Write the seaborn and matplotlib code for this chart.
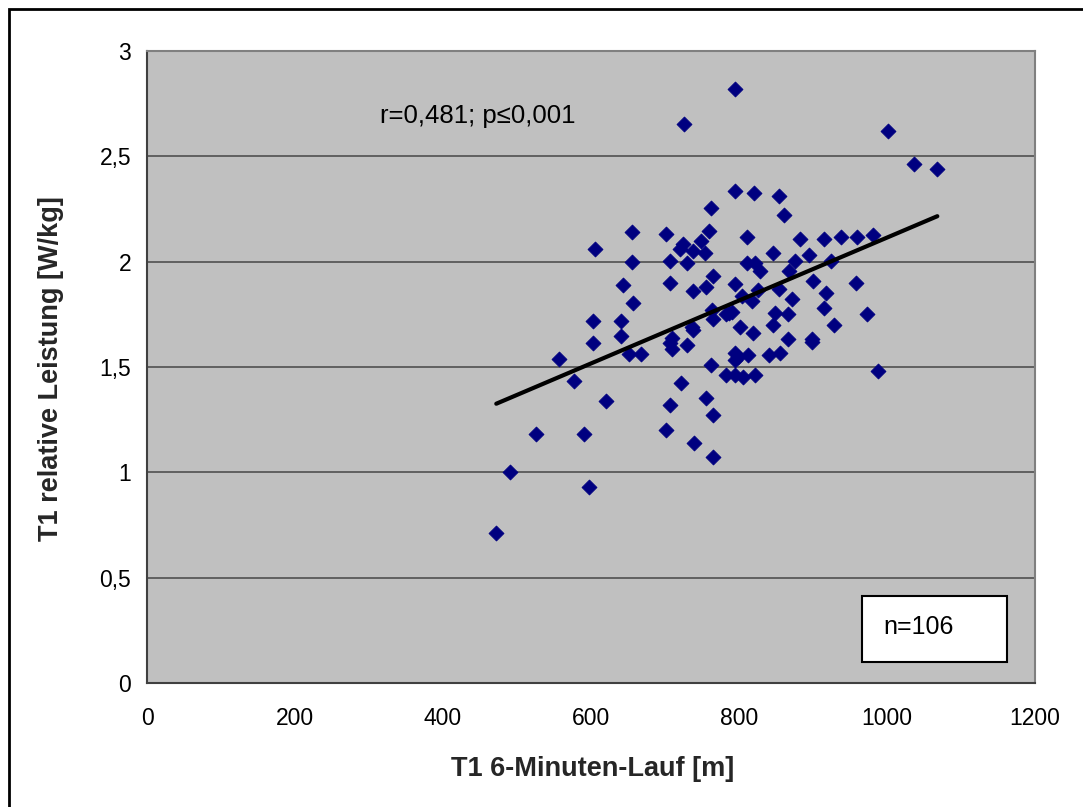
import numpy as np
import pandas as pd
import matplotlib
matplotlib.use("Agg")
import matplotlib.pyplot as plt
import seaborn as sns
from matplotlib.patches import Rectangle

# ---- data ----
lauf_m = [472, 490, 525, 557, 577, 591, 597, 603, 603, 605,
          620, 640, 640, 643, 657, 655, 655, 652, 667, 701,
          707, 707, 709, 707, 709, 701, 707, 721, 730, 739,
          736, 738, 794, 725, 794, 820, 854, 861, 762, 759,
          748, 724, 720, 738, 754, 730, 811, 883, 915, 938,
          959, 981, 846, 895, 875, 924, 811, 821, 765, 828,
          867, 738, 756, 794, 825, 854, 900, 918, 958, 804,
          818, 872, 764, 783, 790, 765, 849, 866, 915, 973,
          802, 819, 846, 929, 866, 898, 899, 794, 794, 812,
          840, 855, 762, 782, 795, 805, 821, 988, 756, 765,
          765, 1002, 1037, 1068, 787, 799]
leistung_wkg = [0.71, 1.00, 1.18, 1.54, 1.435, 1.18, 0.93, 1.615, 1.72, 2.06,
                1.34, 1.72, 1.645, 1.89, 1.805, 2.14, 2.00, 1.56, 1.56, 2.13,
                2.005, 1.90, 1.64, 1.615, 1.585, 1.20, 1.32, 1.425, 1.605, 1.14,
                1.69, 1.675, 2.82, 2.652, 2.337, 2.327, 2.31, 2.223, 2.253, 2.147,
                2.10, 2.084, 2.059, 2.052, 2.043, 1.995, 2.118, 2.107, 2.107, 2.118,
                2.118, 2.128, 2.043, 2.032, 2.005, 2.005, 1.995, 1.995, 1.932, 1.956,
                1.957, 1.861, 1.881, 1.892, 1.865, 1.868, 1.91, 1.853, 1.90, 1.839,
                1.812, 1.824, 1.771, 1.75, 1.762, 1.726, 1.755, 1.75, 1.778, 1.75,
                1.692, 1.663, 1.70, 1.70, 1.633, 1.631, 1.62, 1.565, 1.533, 1.557,
                1.557, 1.568, 1.51, 1.462, 1.462, 1.454, 1.462, 1.481, 1.351, 1.272,
                1.074, 2.622, 2.462, 2.44, 1.755, 1.548]

x_ticks = [0, 200, 400, 600, 800, 1000, 1200]
x_tick_labels = ["0", "200", "400", "600", "800", "1000", "1200"]
y_ticks = [0, 0.5, 1, 1.5, 2, 2.5, 3]
y_tick_labels = ["0", "0,5", "1", "1,5", "2", "2,5", "3"]

x_label = "T1 6-Minuten-Lauf [m]"
y_label = "T1 relative Leistung [W/kg]"
stat_text = "r=0,481; p≤0,001"
n_text = "n=106"

df = pd.DataFrame({"lauf": lauf_m, "leistung": leistung_wkg})

# ---- style ----
sns.set_style("white")
plt.rcParams["font.family"] = ["Liberation Sans", "DejaVu Sans"]

fig = plt.figure(figsize=(10.83, 8.07), dpi=100)
ax = fig.add_axes([147 / 1083, 1 - 683 / 807, 888 / 1083, 632 / 807])
ax.set_facecolor("#C0C0C0")

sns.regplot(data=df, x="lauf", y="leistung", scatter=False, ci=None,
            truncate=True, color="black", line_kws={"linewidth": 3.0, "zorder": 4},
            ax=ax)
sns.scatterplot(data=df, x="lauf", y="leistung", marker="D", s=58,
                color="#000080", edgecolor="#000080", linewidth=0.6,
                ax=ax, zorder=3, legend=False)

ax.set_xlim(0, 1200)
ax.set_ylim(0, 3)
ax.set_xticks(x_ticks)
ax.set_xticklabels(x_tick_labels)
ax.set_yticks(y_ticks)
ax.set_yticklabels(y_tick_labels)

ax.yaxis.grid(True, color="#505050", linewidth=1.2)
ax.xaxis.grid(False)
ax.set_axisbelow(True)

for side in ["left", "bottom"]:
    ax.spines[side].set_color("#404040")
    ax.spines[side].set_linewidth(1.5)
for side in ["top", "right"]:
    ax.spines[side].set_color("#808080")
    ax.spines[side].set_linewidth(1.5)

ax.tick_params(axis="both", direction="out", length=6.5, width=1.0,
               color="#404040", labelsize=16.5, labelcolor="black")
ax.tick_params(axis="x", pad=11)
ax.tick_params(axis="y", pad=5)

ax.set_xlabel(x_label, fontsize=19.5, fontweight="bold")
ax.set_ylabel(y_label, fontsize=19.5, fontweight="bold")
ax.xaxis.set_label_coords(0.502, -0.115)
ax.yaxis.set_label_coords(-0.094, 0.497)

ax.text(0.372, 0.897, stat_text, transform=ax.transAxes, ha="center",
        va="center", fontsize=18.5, color="black")

ax.add_patch(Rectangle((0.805, 0.033), 0.163, 0.105, transform=ax.transAxes,
                       facecolor="white", edgecolor="black", linewidth=1.5,
                       zorder=5))
ax.text(0.829, 0.088, n_text, transform=ax.transAxes, ha="left", va="center",
        fontsize=18, color="black", zorder=6)

# outer chart frame
fig.add_artist(Rectangle((9 / 1083, -0.05), 1.2, 1 - 9 / 807 + 0.05,
                         transform=fig.transFigure, fill=False,
                         edgecolor="black", linewidth=2.0))

fig.savefig("out.png", dpi=100, facecolor="white")
